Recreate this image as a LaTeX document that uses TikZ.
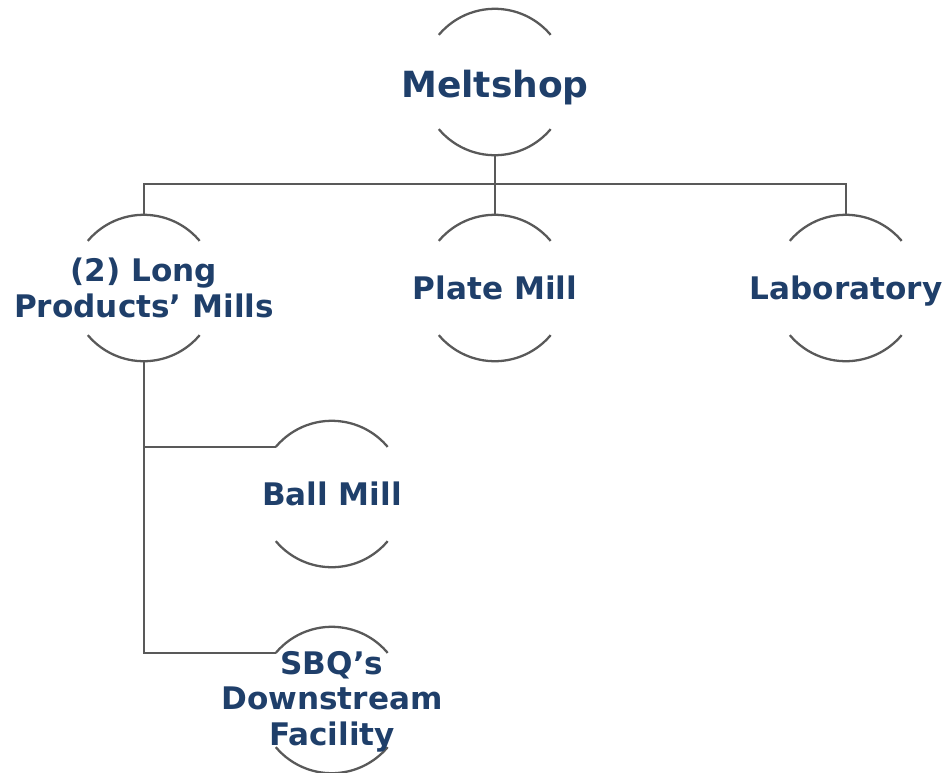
\documentclass[tikz,border=0pt]{standalone}
\usepackage{fontspec}
\newfontfamily\orgfont{DejaVu Sans}
\usetikzlibrary{positioning}
\definecolor{orgblue}{HTML}{1F3F6A}
\definecolor{wiregray}{HTML}{595959}

\begin{document}
\begin{tikzpicture}[x=0.02cm,y=-0.02cm,
  ring/.style={circle,minimum size=2.92cm,inner sep=0pt},
  lbl/.style={font=\orgfont\bfseries\fontsize{17.7}{20.2}\selectfont,text=orgblue,align=center,inner sep=0pt},
  wire/.style={draw=wiregray,line width=1.3pt}]
\useasboundingbox (0,0) rectangle (950,772);
% rings
\node[ring] (melt) at (495,82) {};
\node[ring] (long) at (144,288) {};
\node[ring] (plate) at (495,288) {};
\node[ring] (lab) at (846,288) {};
\node[ring] (ball) at (332,494) {};
\node[ring] (sbq) at (332,700) {};
\foreach \n in {melt,long,plate,lab,ball,sbq}{
  \draw[wire] (\n.140) arc[start angle=140,end angle=40,radius=1.46cm];
  \draw[wire] (\n.220) arc[start angle=220,end angle=320,radius=1.46cm];
}
% labels
\node[lbl,font=\orgfont\bfseries\fontsize{20.5}{23}\selectfont] (meltT) at ([yshift=-3pt]melt) {Meltshop};
\node[lbl] (longT) at (long) {(2) Long\\Products’ Mills};
\node[lbl] (plateT) at (plate) {Plate Mill};
\node[lbl] (labT) at ([yshift=-2pt]lab) {Laboratory};
\node[lbl] (ballT) at (ball) {Ball Mill};
\node[lbl] (sbqT) at ([yshift=-1pt]sbq) {SBQ’s\\Downstream\\Facility};
% connectors
\coordinate (bus) at (495,184);
\draw[wire] (melt.south) -- (plate.north);
\draw[wire] (long.north) |- (bus) -| (lab.north);
\draw[wire] (long.south) |- (ball.140);
\draw[wire] (long.south) |- (sbq.140);
\end{tikzpicture}
\end{document}
